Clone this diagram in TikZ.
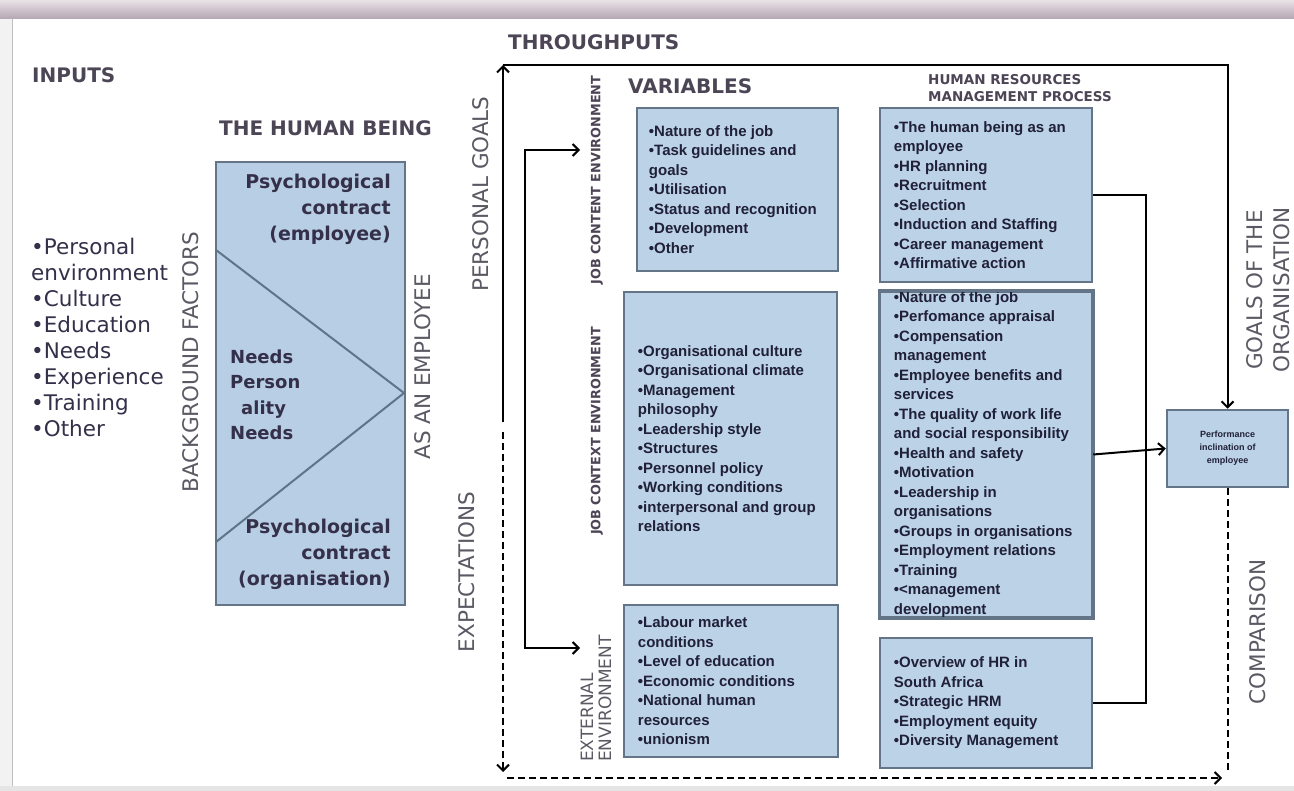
\documentclass[tikz,border=0pt]{standalone}
\usepackage{fontspec}
\setmainfont{DejaVu Sans}
\newfontfamily\arialf{Liberation Sans}
\usetikzlibrary{arrows.meta}
\definecolor{boxfill}{HTML}{BCD2E6}
\definecolor{boxline}{HTML}{637586}
\definecolor{hbfill}{HTML}{B8CEE4}
\definecolor{lbl}{HTML}{4C4555}
\definecolor{gry}{HTML}{5A5A64}
\definecolor{txt}{HTML}{202038}
\definecolor{pctext}{HTML}{34304A}
\definecolor{diagc}{HTML}{5E7489}
\begin{document}
\begin{tikzpicture}[x=1pt,y=-1pt,
  >={Straight Barb[length=6pt,width=12pt]},
  box/.style={draw=boxline, line width=2.5pt, fill=boxfill, inner sep=0pt},
  btxt/.style={font=\arialf\bfseries\fontsize{15}{19.5}\selectfont, text=txt, align=left, inner sep=0pt, anchor=west},
  rlab/.style={rotate=90, font=\fontsize{21.5}{27}\selectfont, text=gry, inner sep=0pt},
  head/.style={font=\bfseries\fontsize{20}{24}\selectfont, text=lbl, inner sep=0pt, anchor=west},
  slab/.style={rotate=90, font=\bfseries\fontsize{12.8}{15}\selectfont, text=lbl, inner sep=0pt},
  pc/.style={font=\bfseries\fontsize{19}{26}\selectfont, text=pctext, align=right, inner sep=0pt, anchor=east},
  nd/.style={font=\bfseries\fontsize{18}{25.5}\selectfont, text=pctext, align=left, inner sep=0pt, anchor=west},
  inl/.style={font=\fontsize{21.5}{25.9}\selectfont, text=pctext, align=left, inner sep=0pt, anchor=west},
  conn/.style={line width=2pt, draw=black},
  dsh/.style={conn, dash pattern=on 7pt off 4pt},
  diag/.style={draw=diagc, line width=2pt}]
\useasboundingbox (0,0) rectangle (1294,791);
% frame
\fill[white] (0,0) rectangle (1294,791);
\shade[top color={rgb,255:red,232;green,226;blue,230}, bottom color={rgb,255:red,180;green,166;blue,178}] (0,0) rectangle (1294,19);
\fill[black!5] (0,19) rectangle (12,791);
\draw[black!25, line width=1.2pt] (12.5,19) -- (12.5,786);
\fill[black!10] (0,786) rectangle (1294,791);

% headings
\node[head] (inputs) at (32,75) {INPUTS};
\node[head] (through) at (508,42) {THROUGHPUTS};
\node[head] (human) at (219,128) {THE HUMAN BEING};
\node[head] (vars) at (628,86) {VARIABLES};
\node[font=\bfseries\fontsize{13.5}{17}\selectfont, text=lbl, inner sep=0pt, anchor=west, align=left] (hrm) at (928,88.5) {HUMAN RESOURCES\\MANAGEMENT PROCESS};

% inputs list
\node[inl] (inlist) at (31,337.5) {•Personal\\environment\\•Culture\\•Education\\•Needs\\•Experience\\•Training\\•Other};

% rotated labels
\node[rlab] (bgf) at (191,362) {BACKGROUND FACTORS};
\node[rlab] (asemp) at (423,367) {AS AN EMPLOYEE};
\node[rlab] (pgoals) at (481,194) {PERSONAL GOALS};
\node[rlab] (expect) at (467,572) {EXPECTATIONS};
\node[rlab] (compar) at (1258,632) {COMPARISON};
\node[rlab, align=center] (goals) at (1268,290) {GOALS OF THE\\ORGANISATION};
\node[slab] (jcont) at (597,180) {JOB CONTENT ENVIRONMENT};
\node[slab] (jctx) at (597,431) {JOB CONTEXT ENVIRONMENT};
\node[rotate=90, font=\fontsize{17}{18}\selectfont, text=gry, inner sep=0pt, align=left, anchor=west] (extenv) at (596,762) {EXTERNAL\\ENVIRONMENT};

% human being box
\node[box, fill=hbfill, minimum width=189pt, minimum height=443pt] (hb) at (310.5,383.5) {};
\draw[diag] (216,250) -- (404,393) -- (216,542);
\node[pc] (pce) at (391,209) {Psychological\\contract\\(employee)};
\node[pc] (pco) at (391,554) {Psychological\\contract\\(organisation)};
\node[nd] (needs) at (230,395) {Needs\\Person\\\hspace*{11pt}ality\\Needs};

% variable boxes
\node[box, minimum width=201pt, minimum height=163pt] (v1) at (737.5,189.5) {};
\node[btxt] (v1t) at ([xshift=13pt]v1.west) {•Nature of the job\\•Task guidelines and\\goals\\•Utilisation\\•Status and recognition\\•Development\\•Other};
\node[box, minimum width=213pt, minimum height=293pt] (v2) at (730.5,438.5) {};
\node[btxt] (v2t) at ([xshift=15pt]v2.west) {•Organisational culture\\•Organisational climate\\•Management\\philosophy\\•Leadership style\\•Structures\\•Personnel policy\\•Working conditions\\•interpersonal and group\\relations};
\node[box, minimum width=214pt, minimum height=152pt] (v3) at (731,681) {};
\node[btxt] (v3t) at ([xshift=15pt]v3.west) {•Labour market\\conditions\\•Level of education\\•Economic conditions\\•National human\\resources\\•unionism};

% HR boxes
\node[box, minimum width=212pt, minimum height=174pt] (hr1) at (986,195) {};
\node[btxt] (hr1t) at ([xshift=15pt]hr1.west) {•The human being as an\\employee\\•HR planning\\•Recruitment\\•Selection\\•Induction and Staffing\\•Career management\\•Affirmative action};
\node[box, minimum width=212pt, minimum height=325pt] (hr2) at (986,454.5) {};
\node[btxt] (hr2t) at ([xshift=15pt]hr2.west) {•Nature of the job\\•Perfomance appraisal\\•Compensation\\management\\•Employee benefits and\\services\\•The quality of work life\\and social responsibility\\•Health and safety\\•Motivation\\•Leadership in\\organisations\\•Groups in organisations\\•Employment relations\\•Training\\•<management\\development};
\draw[draw=boxline, line width=2.5pt] (hr2.north west) rectangle (hr2.south east);
\node[box, minimum width=212pt, minimum height=130pt] (hr3) at (986,703) {};
\node[btxt] (hr3t) at ([xshift=15pt]hr3.west) {•Overview of HR in\\South Africa\\•Strategic HRM\\•Employment equity\\•Diversity Management};

% performance box
\node[box, minimum width=121pt, minimum height=77pt, font=\arialf\bfseries\fontsize{9}{13}\selectfont, text=txt, align=center] (perf) at (1227.5,448.5) {Performance\\inclination of\\employee};

% connectors
\coordinate (tl) at (503,65);
\coordinate (sb) at (503,422);
\coordinate (db) at (503,432);
\coordinate (dbe) at (503,772);
\coordinate (bl) at (507,778);
\coordinate (br) at (1222,778);
\coordinate (rb) at (1227.5,772);
\coordinate (ja) at (580,150);
\coordinate (ea) at (580,648);
\coordinate (hx) at (1146,450);
\draw[conn,->] (sb) -- (tl);
\draw[conn,->] (tl) -| (perf.north);
\draw[dsh,->] (db) -- (dbe);
\draw[dsh,->] (bl) -- (br);
\draw[dsh] (perf.south) -- (rb);
\draw[conn,<->] (ja) -- ++(-55,0) -- ++(0,498) -- (ea);
\draw[conn] (hr1.east) -| (hx) |- (hr3.east);
\draw[conn,->] (hr2.east) -- (perf.west);
\end{tikzpicture}
\end{document}
